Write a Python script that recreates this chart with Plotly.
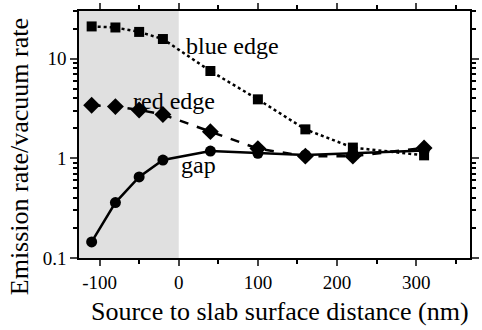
import plotly.graph_objects as go

x_nm = [-110, -80, -50, -20, 40, 100, 160, 220, 310]
blue_edge = [21, 20.5, 18.5, 15.7, 7.5, 3.9, 1.95, 1.28, 1.07]
red_edge = [3.4, 3.3, 3.05, 2.75, 1.85, 1.25, 1.05, 1.05, 1.27]
gap = [0.145, 0.36, 0.65, 0.96, 1.18, 1.12, 1.08, 1.12, 1.2]

x_ticks = [-100, 0, 100, 200, 300]
x_ticklabels = ["-100", "0", "100", "200", "300"]
y_ticks = [0.1, 1, 10]
y_ticklabels = ["0.1", "1", "10"]

font = "Liberation Serif"
W, H = 482, 330
L, R, T, B = 79, 3, 4, 72
PW, PH = W - L - R, H - T - B


def px(xp):
    return (xp - L) / PW


def py(yp):
    return (H - B - yp) / PH


fig = go.Figure()
fig.add_vrect(x0=-126, x1=0, fillcolor="#e0e0e0", line_width=0, layer="below")

fig.add_trace(go.Scatter(x=x_nm, y=blue_edge, mode="lines+markers",
                         line=dict(color="black", width=2.5, dash="dot"),
                         marker=dict(symbol="square", size=10, color="black")))
fig.add_trace(go.Scatter(x=x_nm, y=red_edge, mode="lines+markers",
                         line=dict(color="black", width=2.5, dash="dash"),
                         marker=dict(symbol="diamond", size=13, color="black")))
fig.add_trace(go.Scatter(x=x_nm, y=gap, mode="lines+markers",
                         line=dict(color="black", width=2.5),
                         marker=dict(symbol="circle", size=11, color="black")))

ann_font = dict(size=24, family=font, color="black")
fig.add_annotation(xref="paper", yref="paper", x=px(186), y=py(40), text="blue edge",
                   showarrow=False, xanchor="left", yanchor="middle", font=ann_font)
fig.add_annotation(xref="paper", yref="paper", x=px(176), y=py(97), text="red edge",
                   showarrow=False, xanchor="center", yanchor="middle", font=ann_font)
fig.add_annotation(xref="paper", yref="paper", x=px(201), y=py(162), text="gap",
                   showarrow=False, xanchor="center", yanchor="middle", font=ann_font)

title_font = dict(size=26, family=font, color="black")
fig.add_annotation(xref="paper", yref="paper", x=px(285), y=py(313), text="Source to slab surface distance (nm)",
                   showarrow=False, xanchor="center", yanchor="middle", font=title_font)
fig.add_annotation(xref="paper", yref="paper", x=px(19), y=py(154), text="Emission rate/vacuum rate",
                   showarrow=False, xanchor="center", yanchor="middle", textangle=-90, font=title_font)

fig.update_layout(
    width=W, height=H,
    margin=dict(l=L, r=R, t=T, b=B),
    plot_bgcolor="white", paper_bgcolor="white",
    showlegend=False,
    font=dict(family=font, color="black", size=19),
    xaxis=dict(range=[-126, 368], tickvals=x_ticks, ticktext=x_ticklabels,
               ticks="outside", ticklen=6, tickwidth=1.5, linecolor="black", linewidth=1.5,
               showline=True, mirror="ticks", showgrid=False, zeroline=False,
               minor=dict(tickvals=[-50, 50, 150, 250, 350], ticks="outside", ticklen=4, tickcolor="black"),
               tickfont=dict(size=19, family=font)),
    yaxis=dict(type="log", range=[-1, 1.477], tickvals=y_ticks, ticktext=y_ticklabels,
               ticks="outside", ticklen=7, tickwidth=1.5, linecolor="black", linewidth=1.5,
               showline=True, mirror="ticks", showgrid=False, zeroline=False,
               minor=dict(tickvals=[0.2, 0.3, 0.4, 0.5, 0.6, 0.7, 0.8, 0.9, 2, 3, 4, 5, 6, 7, 8, 9, 20, 30],
                          ticks="outside", ticklen=4, tickcolor="black"),
               tickfont=dict(size=19, family=font)),
)

fig.write_html("out.html")
